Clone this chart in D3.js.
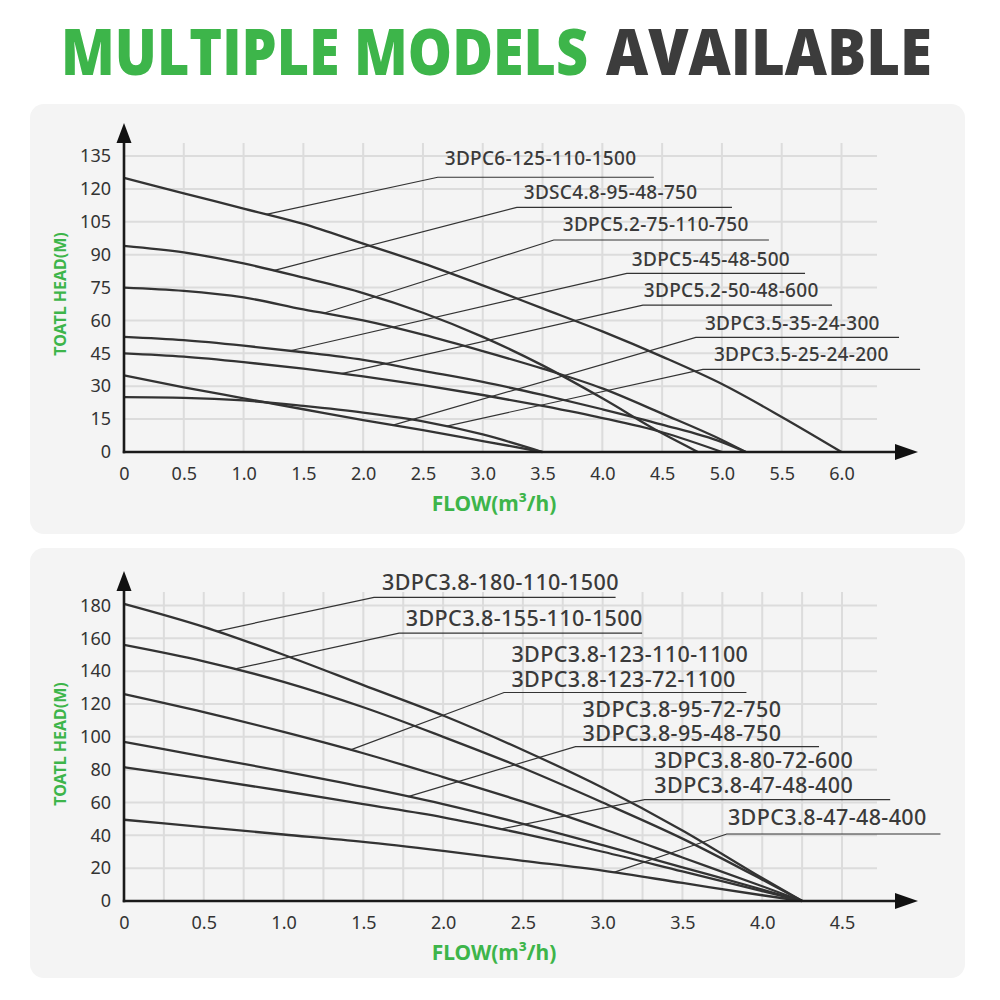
<!DOCTYPE html>
<html>
<head>
<meta charset="utf-8">
<script src="https://cdn.jsdelivr.net/npm/d3@7"></script>
<style>
  body { margin: 0; background: #fff; }
  svg { display: block; font-family: "Noto Sans", "Open Sans", sans-serif; }
</style>
</head>
<body>
<svg id="chart" width="1000" height="1000"></svg>
<script>
// ---- top chart (0 - 6 m3/h) ----
var topFlow = [0, 0.5, 1.0, 1.5, 2.0, 2.5, 3.0, 3.5, 4.0, 4.5, 5.0, 5.5, 6.0];
var topHeadTicks = [0, 15, 30, 45, 60, 75, 90, 105, 120, 135];
var topMaxFlow = [6.0, 4.8, 5.2, 5.2, 5.0, 3.5, 3.5];
// heads read at every 0.5 step, the curve then drops to 0 at its max flow
var head125 = [125, 118, 111, 104, 95, 86, 76, 65.5, 55, 43.5, 31, 16];
var head95 = [94, 91, 86, 79.5, 72.5, 63.5, 52.5, 39.5, 24.5, 8.5];
var head75 = [75, 73.5, 70.5, 65, 60, 53.5, 46, 38, 29, 17.5, 5.5];
var head52 = [52.5, 51, 48.5, 45.5, 42, 37, 32, 26, 19.5, 12.5, 4.5];
var head45 = [45, 43.5, 41, 38, 34.5, 30.5, 26, 21, 15.5, 9];
var head35 = [35, 29.5, 24.5, 19.5, 14.5, 10, 5];
var head25 = [25, 24.7, 23.5, 21, 18, 14, 8];
var topModels = [
  ["3DPC6-125-110-1500"],
  ["3DSC4.8-95-48-750"],
  ["3DPC5.2-75-110-750"],
  ["3DPC5-45-48-500"],
  ["3DPC5.2-50-48-600"],
  ["3DPC3.5-35-24-300"],
  ["3DPC3.5-25-24-200"]
];

// ---- bottom chart (0 - 4.5 m3/h) ----
var botFlow = [0, 0.5, 1.0, 1.5, 2.0, 2.5, 3.0, 3.5, 4.0, 4.5];
var botGridFlow = d3.range(0.25, 4.51, 0.25);
var botHeadTicks = [0, 20, 40, 60, 80, 100, 120, 140, 160, 180];
var botMaxFlow = [4.25, 4.25, 4.25, 4.25, 4.25, 4.25];
var head180 = [181, 167, 150, 131.5, 113, 92, 69, 43, 14];
var head155 = [156, 146, 133.5, 118, 100, 81, 60, 38, 13];
var head123 = [126, 115, 103, 90, 75.5, 60.5, 44, 26.5, 9];
var head96 = [97, 88, 79, 69.5, 59, 47, 34, 20.5, 7];
var head80 = [81.5, 74.5, 67, 59, 51, 41, 30, 18, 6];
var head47 = [49.5, 45, 40.5, 36, 30.5, 24.5, 18.5, 11, 3.5];
var botModels = [
  ["3DPC3.8-180-110-1500"],
  ["3DPC3.8-155-110-1500"],
  ["3DPC3.8-123-110-1100", "3DPC3.8-123-72-1100"],
  ["3DPC3.8-95-72-750", "3DPC3.8-95-48-750"],
  ["3DPC3.8-80-72-600", "3DPC3.8-47-48-400"],
  ["3DPC3.8-47-48-400"]
];

// label placement in chart units (text start, baseline, underline, leader point)
var topNotes = [
  { tx: 2.682, ty: 130.9, x0: 2.624, x1: 4.431, h: 125.3, at: 1.19 },
  { tx: 3.343, ty: 115.4, x0: 3.285, x1: 5.084, h: 111.6, at: 1.25 },
  { tx: 3.669, ty: 100.9, x0: 3.594, x1: 5.393, h: 96.7, at: 1.67 },
  { tx: 4.247, ty: 84.8, x0: 4.205, x1: 5.695, h: 81.5, at: 1.39 },
  { tx: 4.347, ty: 70.7, x0: 4.339, x1: 5.921, h: 67.0, at: 1.82 },
  { tx: 4.858, ty: 55.6, x0: 4.782, x1: 6.481, h: 52.3, at: 2.25 },
  { tx: 4.933, ty: 41.6, x0: 4.841, x1: 6.657, h: 37.7, at: 2.69 }
];
var botNotes = [
  { tx: 1.617, ty: 189.7, x0: 1.567, x1: 3.081, h: 185.0, at: 0.58 },
  { tx: 1.766, ty: 167.7, x0: 1.724, x1: 3.247, h: 163.2, at: 0.69 },
  { tx: 2.428, ty: 130.6, x0: 2.382, x1: 3.901, h: 127.0, at: 1.42 },
  { tx: 2.874, ty: 97.4, x0: 2.830, x1: 4.356, h: 94.0, at: 1.78 },
  { tx: 3.324, ty: 65.8, x0: 3.263, x1: 4.802, h: 61.7, at: 2.36 },
  { tx: 3.785, ty: 46.5, x0: 3.778, x1: 5.117, h: 40.8, at: 3.07 }
];

var GREEN = "#3db54a";
var INK = "#333";

var svg = d3.select("#chart");

// title
svg.append("text")
  .attr("x", 61).attr("y", 75)
  .attr("textLength", 527).attr("lengthAdjust", "spacingAndGlyphs")
  .style("font-family", "'Open Sans', 'Noto Sans', sans-serif")
  .style("font-weight", 800).style("font-size", "63px")
  .attr("fill", GREEN)
  .text("MULTIPLE MODELS");
svg.append("text")
  .attr("x", 606).attr("y", 75)
  .attr("textLength", 326).attr("lengthAdjust", "spacingAndGlyphs")
  .style("font-family", "'Open Sans', 'Noto Sans', sans-serif")
  .style("font-weight", 800).style("font-size", "63px")
  .attr("fill", "#3c3c3c")
  .text("AVAILABLE");

function buildSeries(flow, heads, maxFlow) {
  return heads.map(function(hs, i) {
    var pts = hs.map(function(h, j) { return [flow[j], h]; });
    pts.push([maxFlow[i], 0]);
    return pts;
  });
}

function headAt(pts, f) {
  for (var i = 1; i < pts.length; i++) {
    if (f <= pts[i][0]) {
      var t = (f - pts[i - 1][0]) / (pts[i][0] - pts[i - 1][0]);
      return pts[i - 1][1] + t * (pts[i][1] - pts[i - 1][1]);
    }
  }
  return 0;
}

function drawChart(cfg) {
  var g = svg.append("g");
  var x = cfg.x, y = cfg.y;
  var x0 = x(0), y0 = y(0);

  g.append("rect")
    .attr("x", 30).attr("y", cfg.panel[0])
    .attr("width", 935).attr("height", cfg.panel[1] - cfg.panel[0])
    .attr("rx", 14).attr("fill", "#f4f4f4");

  // grid
  g.append("g").selectAll("line")
    .data(cfg.gridFlow)
    .enter().append("line")
    .attr("x1", function(d) { return x(d); })
    .attr("x2", function(d) { return x(d); })
    .attr("y1", y0).attr("y2", cfg.gridTop)
    .attr("stroke", "#dcdcdc").attr("stroke-width", 2);
  g.append("g").selectAll("line")
    .data(cfg.headTicks.slice(1))
    .enter().append("line")
    .attr("x1", x0).attr("x2", 877)
    .attr("y1", function(d) { return y(d); })
    .attr("y2", function(d) { return y(d); })
    .attr("stroke", "#dcdcdc").attr("stroke-width", 2);

  // tick labels through d3 axes
  var ya = g.append("g")
    .attr("transform", "translate(" + x0 + ",0)")
    .call(d3.axisLeft(y).tickValues(cfg.headTicks).tickSize(0).tickPadding(13));
  var xa = g.append("g")
    .attr("transform", "translate(0," + y0 + ")")
    .call(d3.axisBottom(x).tickValues(cfg.flowTicks).tickSize(0).tickPadding(15)
      .tickFormat(function(d) { return d === 0 ? "0" : d3.format(".1f")(d); }));
  [ya, xa].forEach(function(a) {
    a.select(".domain").remove();
    a.selectAll("text")
      .style("font-family", "'Noto Sans', sans-serif")
      .style("font-size", "18px").attr("fill", INK);
  });

  // curves
  var line = d3.line()
    .x(function(d) { return x(d[0]); })
    .y(function(d) { return y(d[1]); })
    .curve(d3.curveMonotoneX);
  g.append("g").selectAll("path")
    .data(cfg.series)
    .enter().append("path")
    .attr("d", line)
    .attr("fill", "none")
    .attr("stroke", INK).attr("stroke-width", 2.3);

  // model labels with underline and leader
  cfg.notes.forEach(function(n, i) {
    var names = cfg.models[i];
    var pts = cfg.series[i];
    g.append("path")
      .attr("d", "M" + x(n.at) + "," + y(headAt(pts, n.at)) +
        "L" + x(n.x0) + "," + y(n.h) + "L" + x(n.x1) + "," + y(n.h))
      .attr("fill", "none").attr("stroke", INK).attr("stroke-width", 1.2);
    // one text element per label, stacked names as tspans
    var t = g.append("text")
      .attr("y", y(n.ty) - (names.length - 1) * 24.5)
      .style("font-size", cfg.labelSize + "px")
      .style("font-weight", 500)
      .style("letter-spacing", cfg.labelSpacing + "px")
      .attr("fill", "#3a3a3a");
    names.forEach(function(name, k) {
      t.append("tspan")
        .attr("x", x(n.tx))
        .attr("dy", k === 0 ? 0 : 24.5)
        .text(name);
    });
  });

  // axes with arrows
  g.append("line")
    .attr("x1", x0).attr("x2", x0)
    .attr("y1", cfg.arrowTop + 18).attr("y2", y0 + 1.2)
    .attr("stroke", "#1a1a1a").attr("stroke-width", 2.6);
  g.append("path")
    .attr("d", "M" + x0 + "," + cfg.arrowTop + "L" + (x0 - 7.5) + "," + (cfg.arrowTop + 20) +
      "L" + (x0 + 7.5) + "," + (cfg.arrowTop + 20) + "Z")
    .attr("fill", "#111");
  g.append("line")
    .attr("x1", x0 - 1.2).attr("x2", 897)
    .attr("y1", y0).attr("y2", y0)
    .attr("stroke", "#1a1a1a").attr("stroke-width", 2.6);
  g.append("path")
    .attr("d", "M918," + y0 + "L895," + (y0 - 8) + "L895," + (y0 + 8) + "Z")
    .attr("fill", "#111");

  // axis titles
  g.append("text")
    .attr("transform", "translate(66," + cfg.titleY + ") rotate(-90)")
    .attr("text-anchor", "middle")
    .style("font-size", "16px").style("font-weight", 700)
    .attr("fill", GREEN)
    .text("TOATL HEAD(M)");
  g.append("text")
    .attr("x", 494).attr("y", y0 + 59)
    .attr("text-anchor", "middle")
    .style("font-size", "21px").style("font-weight", 700)
    .attr("fill", GREEN)
    .text("FLOW(m³/h)");
}

drawChart({
  panel: [104, 534],
  x: d3.scaleLinear().domain([0, 6]).range([124, 841.5]),
  y: d3.scaleLinear().domain([0, 135]).range([452, 156]),
  gridFlow: topFlow.slice(1),
  gridTop: 143,
  flowTicks: topFlow,
  headTicks: topHeadTicks,
  series: buildSeries(topFlow, [head125, head95, head75, head52, head45, head35, head25], topMaxFlow),
  models: topModels,
  notes: topNotes,
  labelSize: 19,
  labelSpacing: 0.3,
  arrowTop: 123,
  titleY: 294
});

drawChart({
  panel: [548, 978],
  x: d3.scaleLinear().domain([0, 4.5]).range([124, 842]),
  y: d3.scaleLinear().domain([0, 180]).range([901, 605.5]),
  gridFlow: botGridFlow,
  gridTop: 592,
  flowTicks: botFlow,
  headTicks: botHeadTicks,
  series: buildSeries(botFlow, [head180, head155, head123, head96, head80, head47], botMaxFlow),
  models: botModels,
  notes: botNotes,
  labelSize: 21.5,
  labelSpacing: 0.4,
  arrowTop: 571,
  titleY: 744
});
</script>
</body>
</html>
